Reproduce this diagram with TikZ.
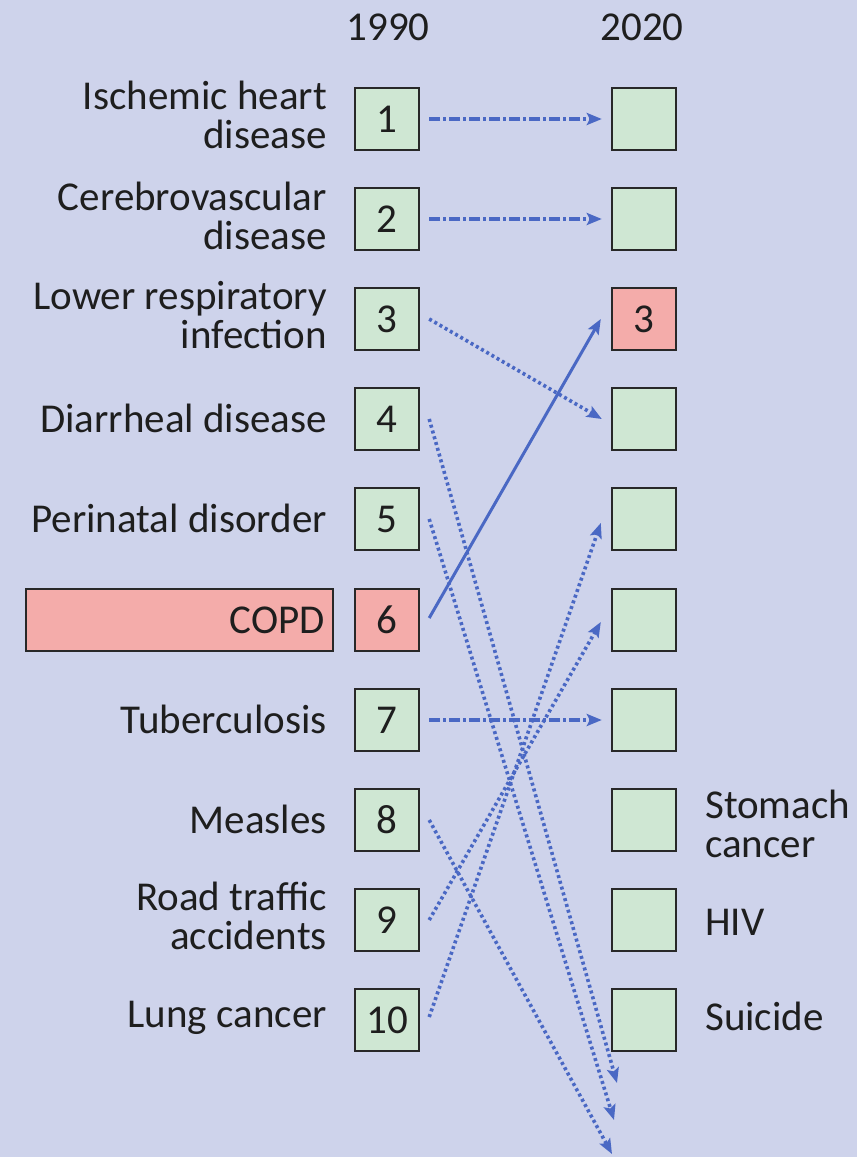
\documentclass[tikz,border=0pt]{standalone}
\usepackage{fontspec}
\setmainfont{Carlito}
\usetikzlibrary{arrows.meta}
\definecolor{bg}{RGB}{206,211,235}
\definecolor{boxgreen}{RGB}{207,231,211}
\definecolor{boxpink}{RGB}{244,172,170}
\definecolor{arrowblue}{RGB}{74,104,196}
\definecolor{ink}{RGB}{30,30,30}
\definecolor{edgecol}{RGB}{40,40,40}
\newcommand{\mylblfont}{\fontsize{41}{39}\selectfont}
\begin{document}
\begin{tikzpicture}[x=1pt,y=-1pt,
  rankbox/.style={draw=edgecol, line width=2.4pt, fill=boxgreen, minimum width=64pt, minimum height=62pt, inner sep=0pt, font=\mylblfont, text=ink},
  pinkrank/.style={rankbox, fill=boxpink},
  lbl/.style={anchor=east, align=right, font=\mylblfont, text=ink, inner sep=0pt},
  rlbl/.style={anchor=west, align=left, font=\mylblfont, text=ink, inner sep=0pt},
  hdr/.style={font=\mylblfont, text=ink, inner sep=0pt},
  pinkbar/.style={draw=edgecol, line width=2.4pt, fill=boxpink, minimum height=62pt, text width=291pt, inner xsep=8pt, inner ysep=0pt, align=right, font=\mylblfont, text=ink},
  tipstyle/.style={-{Stealth[length=15pt,width=12pt,inset=3pt]}},
  dotarrow/.style={tipstyle, draw=arrowblue, line width=3.6pt, dash pattern=on 3pt off 3pt},
  dasharrow/.style={tipstyle, draw=arrowblue, line width=3.6pt, dash pattern=on 11pt off 3pt on 3pt off 3pt},
  solidarrow/.style={tipstyle, draw=arrowblue, line width=3pt}
]
\fill[bg] (0,0) rectangle (857,1157);
\useasboundingbox (0,0) rectangle (857,1157);

% headers
\node[hdr] (h1990) at (388,27) {1990};
\node[hdr] (h2020) at (642,27) {2020};

% 1990 boxes
\node[rankbox]  (L1)  at (387,119)  {1};
\node[rankbox]  (L2)  at (387,219)  {2};
\node[rankbox]  (L3)  at (387,319)  {3};
\node[rankbox]  (L4)  at (387,419)  {4};
\node[rankbox]  (L5)  at (387,519)  {5};
\node[pinkrank] (L6)  at (387,620)  {6};
\node[rankbox]  (L7)  at (387,720)  {7};
\node[rankbox]  (L8)  at (387,820)  {8};
\node[rankbox]  (L9)  at (387,920)  {9};
\node[rankbox]  (L10) at (387,1020) {10};

% 2020 boxes
\node[rankbox]  (R1)  at (644,119)  {};
\node[rankbox]  (R2)  at (644,219)  {};
\node[pinkrank] (R3)  at (644,319)  {3};
\node[rankbox]  (R4)  at (644,419)  {};
\node[rankbox]  (R5)  at (644,519)  {};
\node[rankbox]  (R6)  at (644,620)  {};
\node[rankbox]  (R7)  at (644,720)  {};
\node[rankbox]  (R8)  at (644,820)  {};
\node[rankbox]  (R9)  at (644,920)  {};
\node[rankbox]  (R10) at (644,1020) {};

% left labels
\node[lbl] (t1) at (327,115) {Ischemic heart\\disease};
\node[lbl] (t2) at (327,216) {Cerebrovascular\\disease};
\node[lbl] (t3) at (327,315) {Lower respiratory\\infection};
\node[lbl] (t4) at (327,418) {Diarrheal disease};
\node[lbl] (t5) at (327,518) {Perinatal disorder};
\node[pinkbar] (t6) at (179.5,620) {COPD};
\node[lbl] (t7) at (327,719) {Tuberculosis};
\node[lbl] (t8) at (327,819) {Measles};
\node[lbl] (t9) at (327,916) {Road traffic\\accidents};
\node[lbl] (t10) at (327,1018) {Lung cancer};

% right labels
\node[rlbl] (s8) at (705,824) {Stomach\\cancer};
\node[rlbl] (s9) at (705,922) {HIV};
\node[rlbl] (s10) at (705,1016) {Suicide};

% connector end points
\coordinate (a1) at ([xshift=9pt]L1.east);
\coordinate (a2) at ([xshift=9pt]L2.east);
\coordinate (a3) at ([xshift=9pt]L3.east);
\coordinate (a4) at ([xshift=9pt]L4.east);
\coordinate (a5) at ([xshift=9pt]L5.east);
\coordinate (a6) at ([xshift=9pt,yshift=2pt]L6.east);
\coordinate (a7) at ([xshift=9pt]L7.east);
\coordinate (a8) at ([xshift=9pt]L8.east);
\coordinate (a9) at ([xshift=9pt]L9.east);
\coordinate (a10) at ([xshift=9pt,yshift=3pt]L10.east);
\coordinate (e1) at ([xshift=-9pt]R1.west);
\coordinate (e2) at ([xshift=-9pt]R2.west);
\coordinate (e3) at ([xshift=-10pt]R3.west);
\coordinate (e4) at ([xshift=-9pt]R4.west);
\coordinate (e5) at ([xshift=-10pt,yshift=-4pt]R5.west);
\coordinate (e6) at ([xshift=-10pt,yshift=-2pt]R6.west);
\coordinate (e7) at ([xshift=-9pt]R7.west);
\coordinate (b4) at (617,1083);
\coordinate (b5) at (614,1120);
\coordinate (b8) at (612,1154);

% connectors
\draw[dasharrow] (a1) -- (e1);
\draw[dasharrow] (a2) -- (e2);
\draw[dasharrow] (a7) -- (e7);
\draw[dotarrow] (a3) -- (e4);
\draw[dotarrow] (a4) -- (b4);
\draw[dotarrow] (a5) -- (b5);
\draw[dotarrow] (a8) -- (b8);
\draw[dotarrow] (a9) -- (e6);
\draw[dotarrow] (a10) -- (e5);
\draw[solidarrow] (a6) -- (e3);
\end{tikzpicture}
\end{document}
